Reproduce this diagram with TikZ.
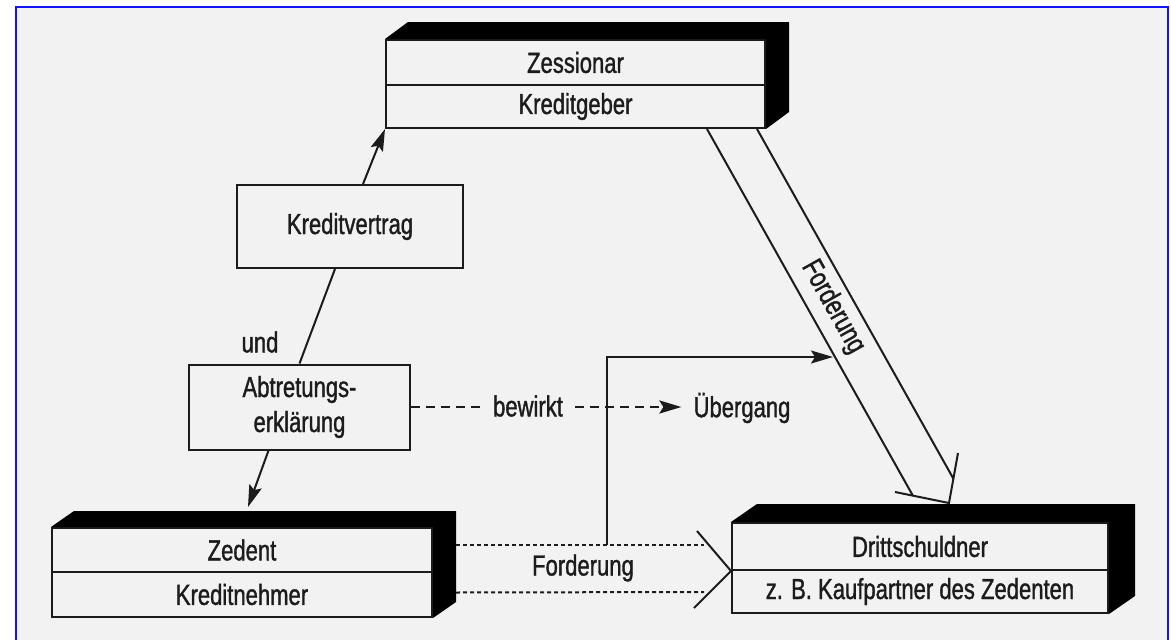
\documentclass[tikz,border=0pt]{standalone}
\usepackage{fontspec}
\setmainfont{Liberation Sans}[FakeStretch=0.76,FakeBold=1.2]
\usetikzlibrary{arrows.meta,calc}
\definecolor{bgc}{HTML}{F2F2F2}
\definecolor{ink}{HTML}{1C1C1C}
\definecolor{frameblue}{HTML}{1414F5}
\begin{document}
\begin{tikzpicture}[x=1pt,y=-1pt,
  lbl/.style={font=\fontsize{29}{35}\selectfont, text=ink},
  cell/.style={draw=ink, line width=2pt, fill=bgc, inner sep=0pt, lbl},
  conn/.style={draw=ink, line width=2pt},
  tip/.style={-{Stealth[length=22pt,width=13pt,inset=4pt]}},
  dashline/.style={conn, dash pattern=on 9pt off 6pt, line width=2.5pt},
  dotline/.style={conn, dash pattern=on 4pt off 3pt, line width=2pt},
  shade/.style={fill=black}
]
\useasboundingbox (0,0) rectangle (1171,640);
\clip (0,0) rectangle (1171,640);
\fill[white] (0,0) rectangle (1171,640);
\draw[frameblue, line width=2.5pt, fill=bgc] (16,7) rectangle (1168,670);

% Zessionar
\node[cell, minimum width=379pt, minimum height=45pt] (zesT) at (575.5,62.5) {Zessionar};
\node[cell, minimum width=379pt, minimum height=43pt] (zesB) at (575.5,106.5) {Kreditgeber};
\fill[shade] (zesT.north west) -- ++(23,-17) -- ($(zesT.north east)+(23,-17)$) -- ($(zesB.south east)+(23,-17)$) -- (zesB.south east) -- (zesT.north east) -- cycle;

% Zedent
\node[cell, minimum width=380pt, minimum height=44pt] (zedT) at (242,550) {Zedent};
\node[cell, minimum width=380pt, minimum height=45pt] (zedB) at (242,594.5) {Kreditnehmer};
\fill[shade] (zedT.north west) -- ++(23,-16) -- ($(zedT.north east)+(23,-16)$) -- ($(zedB.south east)+(23,-16)$) -- (zedB.south east) -- (zedT.north east) -- cycle;

% Drittschuldner
\node[cell, minimum width=376pt, minimum height=47pt] (dritT) at (920,546.5) {Drittschuldner};
\node[cell, minimum width=376pt, minimum height=43pt] (dritB) at (920,591.5) {z. B. Kaufpartner des Zedenten};
\fill[shade] (dritT.north west) -- ++(26,-18) -- ($(dritT.north east)+(26,-18)$) -- ($(dritB.south east)+(26,-18)$) -- (dritB.south east) -- (dritT.north east) -- cycle;

% plain boxes
\node[cell, minimum width=226pt, minimum height=83pt] (kredit) at (350,226.5) {Kreditvertrag};
\node[cell, minimum width=221pt, minimum height=85pt, align=center] (abtr) at (299.5,407) {Abtretungs-\\erklärung};

% labels
\node[lbl] (und) at (260,342) {und};
\node[lbl, inner sep=12pt] (bw) at (528,406) {bewirkt};
\node[lbl, inner sep=6pt] (ueb) at (742,408) {Übergang};
\node[lbl] (ford) at (583,568) {Forderung};

% arrows between boxes
\draw[conn] (abtr.north) -- ($(kredit.south)+(-15,0)$);
\draw[conn,tip] ($(kredit.north)+(13,0)$) -- (zesB.south west);
\draw[conn,tip] ($(abtr.south)+(-31,0)$) -- ($(zedT.north)+(6,-20)$);

% bewirkt
\draw[dashline] (abtr.east) -- (abtr.east -| bw.west);
\draw[dashline,tip] (abtr.east -| bw.east) -- ($(abtr.east -| ueb.west)+(-6,0)$);

% dotted Forderung
\coordinate (fork) at (607,545);
\draw[dotline] ($(zedT.east)+(23,-5)$) -- ($(dritT.west)+(-27,-1.5)$);
\draw[dotline] ($(zedB.east)+(23,-2)$) -- ($(dritB.west)+(-27,0.5)$);
\draw[conn] ($(dritT.south west)+(-34,-40)$) -- (dritT.south west) -- ($(dritT.south west)+(-37,37)$);

% big hollow arrow
\coordinate (sL0) at (707,129);
\coordinate (sL1) at (912.9,495.7);
\coordinate (sR0) at (757,129);
\coordinate (sR1) at (953.4,478.7);
\coordinate (sBL) at (895,492);
\coordinate (sBR) at (958,453);
\coordinate (sTip) at (949,503);
\draw[conn] (sL0) -- (sL1);
\draw[conn] (sR0) -- (sR1);
\draw[conn, line join=miter] (sBL) -- (sTip) -- (sBR);
\node[lbl, rotate=-60.7] (fordS) at (833,307) {Forderung};

% transition arrow
\coordinate (uebpt) at (833,357);
\draw[conn, line width=1.6pt, tip] (fork) |- (uebpt);
\end{tikzpicture}
\end{document}
